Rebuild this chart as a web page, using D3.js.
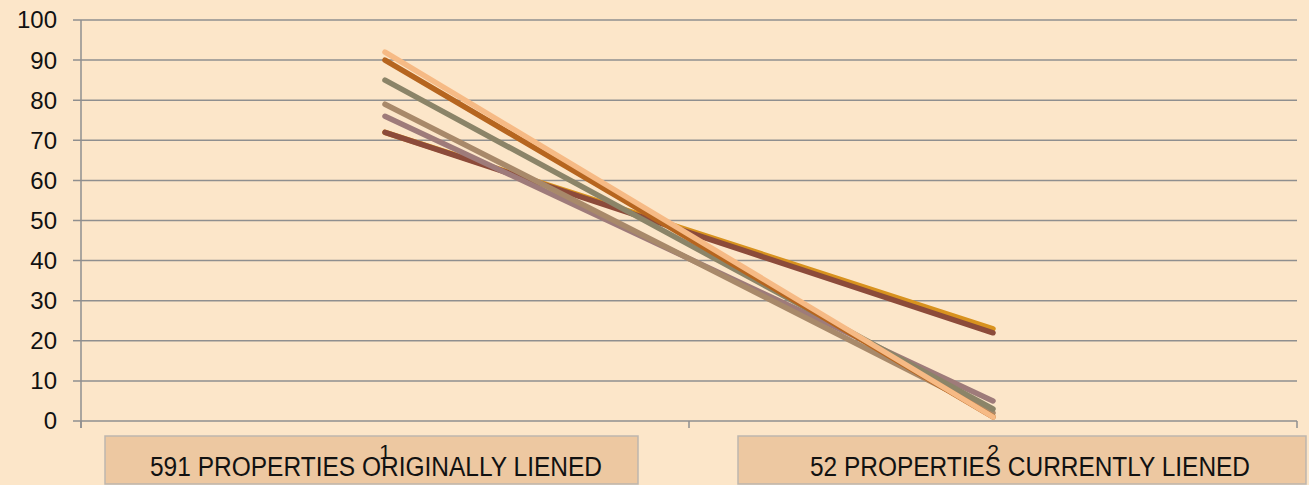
<!DOCTYPE html>
<html>
<head>
<meta charset="utf-8">
<script src="https://cdn.jsdelivr.net/npm/d3@7"></script>
<style>
  html, body { margin: 0; padding: 0; background: #FCE6C9; }
  svg { display: block; }
</style>
</head>
<body>
<svg id="chart" width="1309" height="485"></svg>
<script>
// Category positions on the x axis and their descriptive captions
const categories = ["1", "2"];
const captions = ["591 PROPERTIES ORIGINALLY LIENED", "52 PROPERTIES CURRENTLY LIENED"];

// Y axis ticks
const yTicks = [0, 10, 20, 30, 40, 50, 60, 70, 80, 90, 100];

// One value pair per series (category 1, category 2), in drawing order
const seriesNames = ["Gold", "Brown", "Mauve", "Tan", "Olive", "Rust", "Peach"];
const seriesValues = [
  [72, 23],
  [72, 22],
  [76, 5],
  [79, 2],
  [85, 3],
  [90, 1],
  [92, 1]
];
const seriesColors = ["#D8921E", "#8C4B3A", "#9E7B7A", "#A8896A", "#8B8468", "#B6651F", "#F6BA85"];

const svg = d3.select("#chart");
const margin = { left: 81, right: 12, top: 20, bottom: 64 };
const W = 1309, H = 485;

const x = d3.scaleBand().domain(categories).range([margin.left, W - margin.right]).padding(0);
const y = d3.scaleLinear().domain([0, 100]).range([H - margin.bottom, margin.top]);

// Horizontal gridlines
svg.append("g")
  .selectAll("line")
  .data(yTicks)
  .join("line")
  .attr("x1", margin.left - 8)
  .attr("x2", W - margin.right)
  .attr("y1", d => y(d))
  .attr("y2", d => y(d))
  .attr("stroke", "#8F8F8F")
  .attr("stroke-width", 1.5);

// Y axis line
svg.append("line")
  .attr("x1", margin.left).attr("x2", margin.left)
  .attr("y1", y(100)).attr("y2", y(0) + 7)
  .attr("stroke", "#8F8F8F").attr("stroke-width", 1.5);

// Y tick labels
svg.append("g")
  .selectAll("text")
  .data(yTicks)
  .join("text")
  .attr("x", 57)
  .attr("y", d => y(d))
  .attr("dy", "0.35em")
  .attr("text-anchor", "end")
  .attr("font-family", "Liberation Sans, Arial, sans-serif")
  .attr("font-size", 24)
  .attr("fill", "#111")
  .text(d => d);

// X tick marks at category boundaries
const boundaries = categories.map(c => x(c)).concat([x(categories[categories.length - 1]) + x.bandwidth()]);
svg.append("g")
  .selectAll("line")
  .data(boundaries)
  .join("line")
  .attr("x1", d => d).attr("x2", d => d)
  .attr("y1", y(0)).attr("y2", y(0) + 7)
  .attr("stroke", "#8F8F8F").attr("stroke-width", 1.5);

// Caption boxes below the axis
const boxes = [
  { x0: 105, x1: 638, tx: 376, w: 452 },
  { x0: 738, x1: 1306, tx: 1030, w: 440 }
];
const capG = svg.append("g");
capG.selectAll("rect")
  .data(boxes)
  .join("rect")
  .attr("x", d => d.x0)
  .attr("y", 436)
  .attr("width", d => d.x1 - d.x0)
  .attr("height", 48)
  .attr("fill", "#EDC8A1")
  .attr("stroke", "#BDB6AE")
  .attr("stroke-width", 1.5);
capG.selectAll("text")
  .data(captions)
  .join("text")
  .attr("x", (d, i) => boxes[i].tx - boxes[i].w / 2)
  .attr("y", 476)
  .attr("textLength", (d, i) => boxes[i].w)
  .attr("lengthAdjust", "spacingAndGlyphs")
  .attr("font-family", "Liberation Sans, Arial, sans-serif")
  .attr("font-size", 27)
  .attr("fill", "#111")
  .text(d => d);

// X category labels
svg.append("g")
  .selectAll("text")
  .data(categories)
  .join("text")
  .attr("x", d => x(d) + x.bandwidth() / 2)
  .attr("y", 459)
  .attr("text-anchor", "middle")
  .attr("font-family", "Liberation Sans, Arial, sans-serif")
  .attr("font-size", 21)
  .attr("fill", "#111")
  .text(d => d);

// Series lines
const line = d3.line()
  .x((d, i) => x(categories[i]) + x.bandwidth() / 2)
  .y(d => y(d));

svg.append("g")
  .selectAll("path")
  .data(seriesValues)
  .join("path")
  .attr("d", d => line(d))
  .attr("fill", "none")
  .attr("stroke", (d, i) => seriesColors[i])
  .attr("stroke-width", 5.5)
  .attr("stroke-linecap", "round");
</script>
</body>
</html>
